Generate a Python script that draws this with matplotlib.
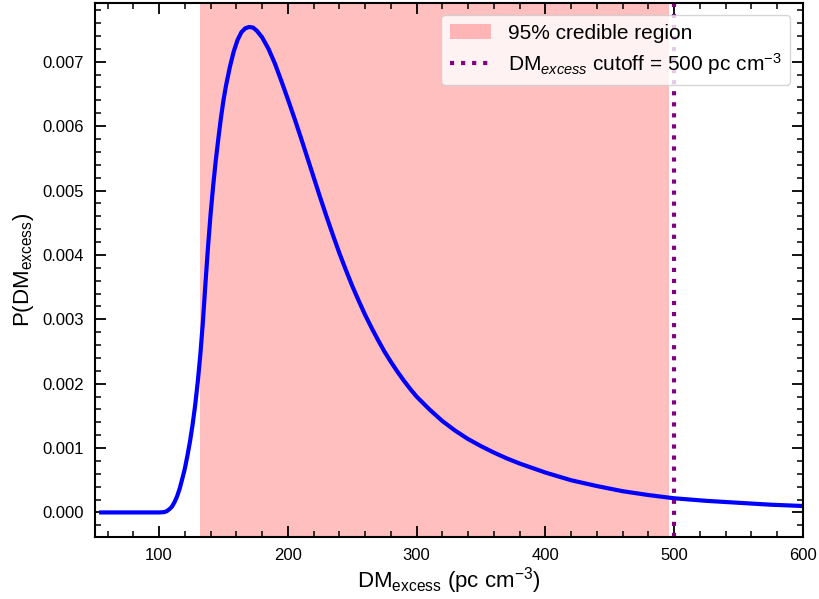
import matplotlib
matplotlib.use("Agg")
import matplotlib.pyplot as plt
from matplotlib.ticker import MultipleLocator

plt.rcParams['font.family'] = ['Liberation Sans', 'DejaVu Sans']
plt.rcParams['mathtext.fontset'] = 'custom'
plt.rcParams['mathtext.rm'] = 'Liberation Sans'
plt.rcParams['mathtext.it'] = 'Liberation Sans:italic'
plt.rcParams['mathtext.bf'] = 'Liberation Sans:bold'

dm = [55, 100, 104, 106, 108, 110, 112, 114, 116, 118, 120, 122, 124, 126, 128,
      130, 132, 134, 136, 138, 140, 142, 144, 146, 148, 150, 152, 155, 158, 161,
      164, 167, 170, 173, 176, 180, 185, 190, 195, 200, 205, 210, 215, 220, 225,
      230, 235, 240, 245, 250, 255, 260, 265, 270, 275, 280, 285, 290, 295, 300,
      310, 320, 330, 340, 350, 360, 370, 380, 390, 400, 420, 440, 460, 480, 500,
      525, 550, 575, 600]
prob = [0.0, 0.0, 0.000005, 0.00002, 0.00005, 0.00009, 0.00016, 0.00025, 0.00037,
        0.00052, 0.00068, 0.00088, 0.00110, 0.00136, 0.00166, 0.00202, 0.00244,
        0.00295, 0.00355, 0.00412, 0.00463, 0.00507, 0.00546, 0.00580, 0.00612,
        0.00640, 0.00663, 0.00692, 0.00716, 0.00734, 0.00746, 0.00752, 0.00754,
        0.00753, 0.00748, 0.00738, 0.00720, 0.00697, 0.00670, 0.00642, 0.00613,
        0.00583, 0.00552, 0.00521, 0.00490, 0.00460, 0.00431, 0.00403, 0.00377,
        0.00352, 0.00329, 0.00307, 0.00287, 0.00268, 0.00250, 0.00234, 0.00219,
        0.00205, 0.00192, 0.00180, 0.00160, 0.00142, 0.00127, 0.00114, 0.00103,
        0.00093, 0.00084, 0.00076, 0.00069, 0.00062, 0.00050, 0.00041, 0.00033,
        0.00027, 0.00022, 0.00018, 0.00015, 0.00012, 0.00010]
credible_lo, credible_hi = 132, 496
cutoff = 500

fig = plt.figure(figsize=(8.2, 5.99), dpi=100)
ax = fig.add_axes([0.1155, 0.104, 0.8635, 0.8915])

ax.axvspan(credible_lo, credible_hi, color='red', alpha=0.25, lw=0,
           label='95% credible region')
ax.plot(dm, prob, color='blue', lw=3)
ax.axvline(cutoff, color='purple', ls=':', lw=3,
           label=r'DM$_{excess}$ cutoff = 500 pc cm$^{-3}$')

ax.set_xlim(50, 600)
ax.margins(y=0.05)
ax.xaxis.set_major_locator(MultipleLocator(100))
ax.xaxis.set_minor_locator(MultipleLocator(20))
ax.yaxis.set_major_locator(MultipleLocator(0.001))
ax.yaxis.set_minor_locator(MultipleLocator(0.0002))
ax.tick_params(which='both', direction='in', top=True, right=True, labelsize=12,
               pad=8)
ax.tick_params(which='major', length=8, width=1.3)
ax.tick_params(which='minor', length=4, width=1.1)
for s in ax.spines.values():
    s.set_linewidth(1.5)

ax.set_xlabel(r'DM$_{\mathrm{excess}}$ (pc cm$^{-3}$)', fontsize=16, labelpad=2)
ax.set_ylabel(r'P(DM$_{\mathrm{excess}}$)', fontsize=16, labelpad=4)
ax.legend(loc='upper right', fontsize=15, borderaxespad=0.6, labelspacing=0.4)

fig.savefig('out.png', dpi=100)
